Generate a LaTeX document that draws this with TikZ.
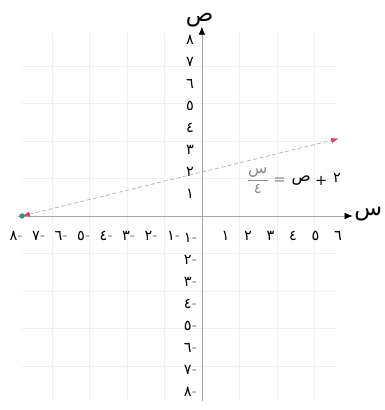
\documentclass[tikz,border=0pt]{standalone}
\usepackage{fontspec}
\usepackage{amsmath}
\newfontfamily\arabicfont[Script=Arabic]{DejaVu Sans}
\TeXXeTstate=1
\usetikzlibrary{arrows.meta,positioning}
\definecolor{gridgray}{HTML}{F0F0F0}
\definecolor{axisgray}{HTML}{A6A6A6}
\definecolor{linegray}{HTML}{B4B4B4}
\definecolor{tipred}{HTML}{D8405F}
\definecolor{dotteal}{HTML}{3A8F80}
\definecolor{fadedtext}{HTML}{8A8A8A}

\begin{document}
\begin{tikzpicture}[x=0.6cm,y=0.587cm,font=\arabicfont\fontsize{11}{13}\selectfont]
  \useasboundingbox (-8.98,-8.82) rectangle (8.13,9.82);
  % faint squared paper
  \draw[gridgray,very thin] (-8,-8.4) grid (6,8.3);
  % axes
  \coordinate (xstart) at (-8.2,0);
  \coordinate (xend) at (6.7,0);
  \coordinate (ystart) at (0,-8.4);
  \coordinate (yend) at (0,8.6);
  \draw[axisgray,-{Latex[black,length=6pt,width=5pt]}] (xstart) -- (xend);
  \draw[axisgray,-{Latex[black,length=6pt,width=5pt]}] (ystart) -- (yend);
  \node[font=\arabicfont\LARGE] (xname) at (7.4,0.1) {س};
  \node[font=\arabicfont\LARGE,anchor=base] (yname) at (-0.1,8.85) {ص};
  % tick labels
  \foreach \i/\d in {1/١,2/٢,3/٣,4/٤,5/٥,6/٦}
    \node (xpos\i) at (\i+0.05,-0.9) {\d};
  \foreach \i/\d in {1/١,2/٢,3/٣,4/٤,5/٥,6/٦,7/٧,8/٨}
    \node[anchor=east,inner sep=1pt] (xneg\i) at (-\i+0.1,-0.9) {\d{\color{fadedtext}-}};
  \foreach \i/\d in {1/١,2/٢,3/٣,4/٤,5/٥,6/٦,7/٧,8/٨}
    \node (ypos\i) at (-0.53,\i) {\d};
  \foreach \i/\d in {1/١,2/٢,3/٣,4/٤,5/٥,6/٦,7/٧,8/٨}
    \node[anchor=east,inner sep=1pt] (yneg\i) at (-0.15,-\i) {\d{\color{fadedtext}-}};
  % the line through (-8,0) and (0,2)
  \coordinate (lstart) at (-8,0);
  \coordinate (lend) at (6.1,3.52);
  \draw[linegray,densely dashed,line width=0.6pt,
    {Latex[tipred,length=6pt,width=4pt]}-{Latex[tipred,length=6pt,width=4pt]}] (lstart) -- (lend);
  \fill[dotteal] (lstart) circle (2pt);
  % equation
  \node[fadedtext,inner sep=0pt] (eqfrac) at (2.49,1.6)
    {$\dfrac{\hbox{\arabicfont\large س}}{\hbox{\arabicfont ٤}}$};
  \node[fadedtext,inner sep=0pt,right=3pt of eqfrac] (eqequal) {=};
  \node[inner sep=0pt,right=4pt of eqequal,font=\arabicfont\large] (eqsad) {ص};
  \node[inner sep=0pt,right=3pt of eqsad] (eqplus) {+};
  \node[inner sep=0pt,right=4pt of eqplus,yshift=2pt] (eqtwo) {٢};
\end{tikzpicture}
\end{document}
